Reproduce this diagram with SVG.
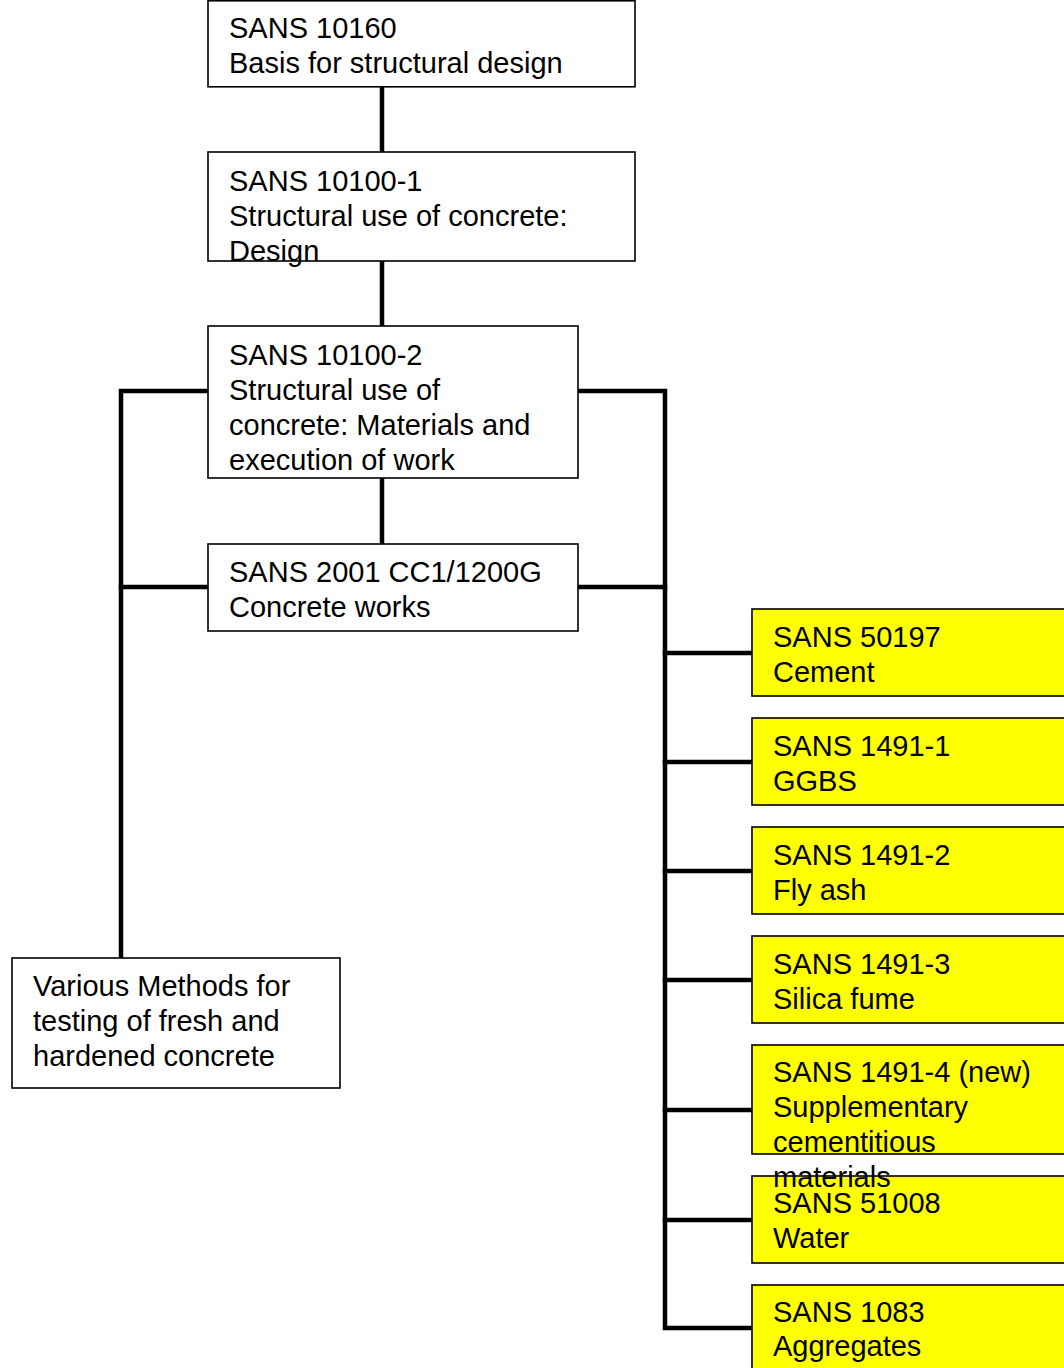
<svg xmlns="http://www.w3.org/2000/svg" width="1064" height="1368" viewBox="0 0 1064 1368">
<style>
.box{fill:#fff;stroke:#000;stroke-width:1.6}
.ybox{fill:#ffff00;stroke:#000;stroke-width:1.6}
.t{font-family:"Liberation Sans",Arial,sans-serif;font-size:29px;fill:#000}
.c{stroke:#000;stroke-width:4.5;fill:none;stroke-linecap:square}
</style>
<rect width="1064" height="1368" fill="#fff"/>
<g id="connectors">
<line class="c" x1="382" y1="87" x2="382" y2="152"/>
<line class="c" x1="382" y1="261" x2="382" y2="326"/>
<line class="c" x1="382" y1="478" x2="382" y2="544"/>
<polyline class="c" points="208,391 121,391 121,958"/>
<line class="c" x1="121" y1="587" x2="208" y2="587"/>
<polyline class="c" points="578,391 665,391 665,1328 752,1328"/>
<line class="c" x1="578" y1="587" x2="665" y2="587"/>
<line class="c" x1="665" y1="653" x2="752" y2="653"/>
<line class="c" x1="665" y1="762" x2="752" y2="762"/>
<line class="c" x1="665" y1="871" x2="752" y2="871"/>
<line class="c" x1="665" y1="980" x2="752" y2="980"/>
<line class="c" x1="665" y1="1110" x2="752" y2="1110"/>
<line class="c" x1="665" y1="1220" x2="752" y2="1220"/>
</g>
<g id="n1"><rect class="box" x="208" y="0.8" width="427" height="86"/><text class="t" x="229" y="38">SANS 10160</text><text class="t" x="229" y="73">Basis for structural design</text></g>
<g id="n2"><rect class="box" x="208" y="152" width="427" height="109"/><text class="t" x="229" y="191">SANS 10100-1</text><text class="t" x="229" y="226">Structural use of concrete:</text><text class="t" x="229" y="261">Design</text></g>
<g id="n3"><rect class="box" x="208" y="326" width="370" height="152"/><text class="t" x="229" y="365">SANS 10100-2</text><text class="t" x="229" y="400">Structural use of</text><text class="t" x="229" y="435">concrete: Materials and</text><text class="t" x="229" y="470">execution of work</text></g>
<g id="n4"><rect class="box" x="208" y="544" width="370" height="87"/><text class="t" x="229" y="582">SANS 2001 CC1/1200G</text><text class="t" x="229" y="617">Concrete works</text></g>
<g id="n5"><rect class="box" x="12" y="958" width="328" height="130"/><text class="t" x="33" y="996">Various Methods for</text><text class="t" x="33" y="1031">testing of fresh and</text><text class="t" x="33" y="1066">hardened concrete</text></g>
<g id="n6"><rect class="ybox" x="752" y="609" width="320" height="87"/><text class="t" x="773" y="647">SANS 50197</text><text class="t" x="773" y="682">Cement</text></g>
<g id="n7"><rect class="ybox" x="752" y="718" width="320" height="87"/><text class="t" x="773" y="756">SANS 1491-1</text><text class="t" x="773" y="791">GGBS</text></g>
<g id="n8"><rect class="ybox" x="752" y="827" width="320" height="87"/><text class="t" x="773" y="865">SANS 1491-2</text><text class="t" x="773" y="900">Fly ash</text></g>
<g id="n9"><rect class="ybox" x="752" y="936" width="320" height="87"/><text class="t" x="773" y="974">SANS 1491-3</text><text class="t" x="773" y="1009">Silica fume</text></g>
<g id="n11"><rect class="ybox" x="752" y="1176" width="320" height="87"/><text class="t" x="773" y="1213">SANS 51008</text><text class="t" x="773" y="1248">Water</text></g>
<g id="n10"><rect class="ybox" x="752" y="1045" width="320" height="109"/><text class="t" x="773" y="1082">SANS 1491-4 (new)</text><text class="t" x="773" y="1117">Supplementary</text><text class="t" x="773" y="1152">cementitious</text><text class="t" x="773" y="1187">materials</text></g>
<g id="n12"><rect class="ybox" x="752" y="1285" width="320" height="100"/><text class="t" x="773" y="1322">SANS 1083</text><text class="t" x="773" y="1356">Aggregates</text></g>
</svg>
